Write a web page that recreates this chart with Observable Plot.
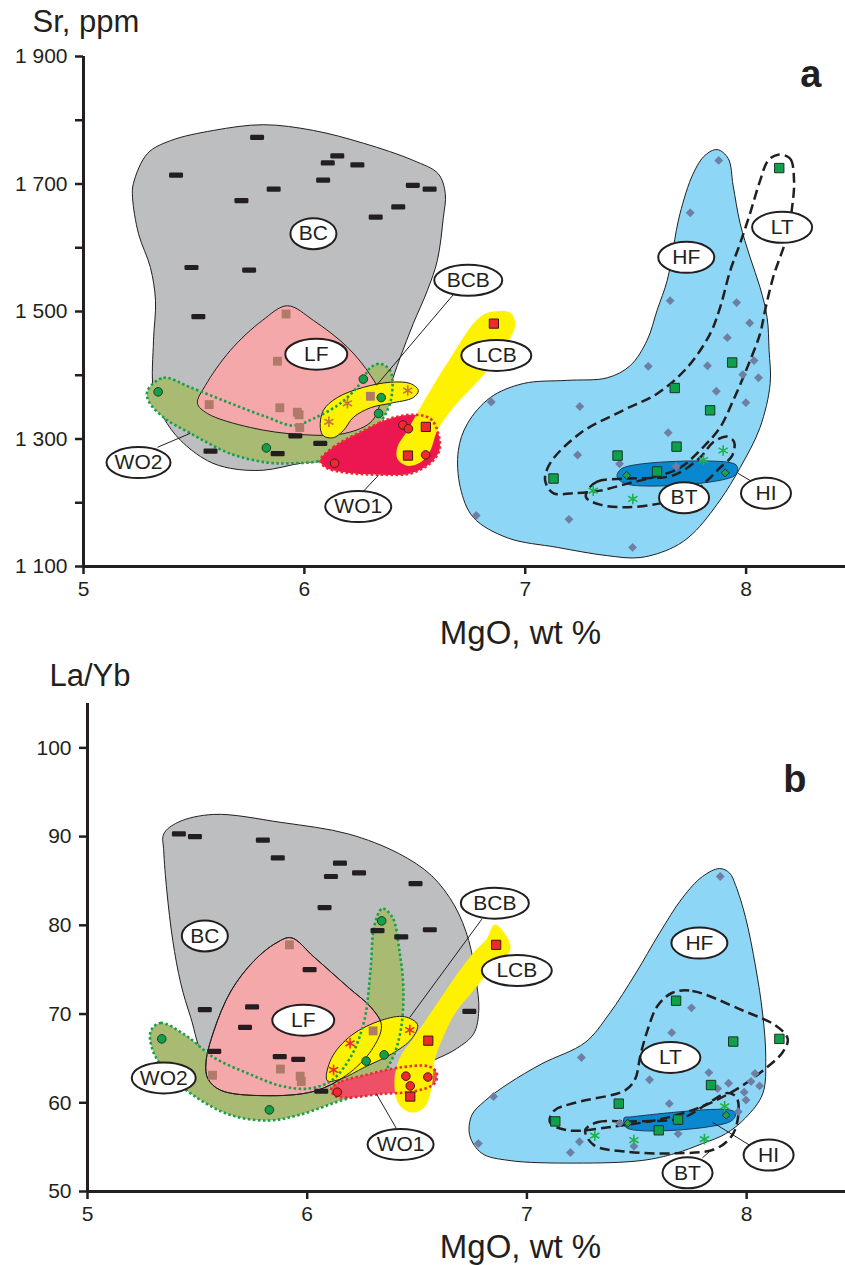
<!DOCTYPE html>
<html><head><meta charset="utf-8">
<script src="https://cdn.jsdelivr.net/npm/d3@7"></script>
<script src="https://cdn.jsdelivr.net/npm/@observablehq/plot@0.6"></script>
<style>body{margin:0;background:#fff;} svg{display:block;} #chart{width:845px;}</style>
</head><body><div id="chart"></div>
<script>
// ---------- axis ticks ----------
const xTicks = [5, 6, 7, 8];
const srTicks = [1100, 1200, 1300, 1400, 1500, 1600, 1700, 1800, 1900];
const srTickLabels = [1100, 1300, 1500, 1700, 1900];
const laybTicks = [50, 60, 70, 80, 90, 100];

// ---------- panel a: Sr (ppm) vs MgO (wt %) ----------
const bcA = [[5.786,1773],[5.419,1714],[6.149,1744],[6.106,1733],[6.240,1730],[6.085,1706],[5.861,1692],[5.715,1674],[6.491,1698],[6.567,1692],[6.425,1664],[6.323,1648],[5.489,1569],[5.750,1565],[5.520,1492],[5.959,1305],[6.072,1293],[5.575,1281],[5.879,1277]];
const lfA = [[5.917,1496],[5.878,1422],[5.569,1354],[5.889,1349],[5.968,1342],[5.976,1338],[5.979,1318],[6.299,1367]];
const wo2A = [[5.338,1374],[6.267,1394],[6.348,1365],[6.336,1340],[5.828,1286]];
const bcbA = [[6.468,1376],[6.195,1356],[6.111,1327]];
const wo1A = [[6.446,1322],[6.471,1316],[6.549,1275],[6.137,1262]];
const lcbA = [[6.858,1481],[6.550,1319],[6.469,1274]];
const hfA = [[7.876,1737],[7.747,1655],[7.656,1517],[7.957,1514],[8.016,1482],[7.915,1459],[7.557,1414],[7.825,1415],[8.036,1423],[7.985,1401],[8.056,1396],[7.865,1375],[7.999,1357],[6.846,1358],[7.247,1351],[7.647,1310],[7.237,1275],[7.427,1261],[7.684,1257],[6.778,1180],[7.198,1174],[7.486,1130]];
const ltA = [[8.150,1725],[7.937,1420],[7.677,1380],[7.837,1345],[7.685,1288],[7.418,1274],[7.597,1249],[7.128,1238]];
const btA = [[7.896,1282],[7.807,1267],[7.308,1219],[7.487,1206]];
const hiA = [[7.459,1243],[7.905,1247]];

// field outlines, panel a (MgO, Sr)
const bcFieldA = [[5.226,1701],[5.290,1748],[5.394,1768],[5.588,1784],[5.814,1793],[6.041,1784],[6.267,1764],[6.493,1737],[6.606,1716],[6.638,1685],[6.629,1647],[6.602,1580],[6.557,1533],[6.493,1481],[6.434,1428],[6.380,1376],[6.299,1313],[6.118,1269],[5.982,1262],[5.814,1251],[5.665,1254],[5.561,1266],[5.439,1298],[5.362,1334],[5.317,1376],[5.317,1455],[5.326,1517],[5.303,1569],[5.249,1622],[5.222,1679]];
const lfFieldA = [[5.923,1509],[6.041,1486],[6.195,1444],[6.299,1400],[6.344,1368],[6.308,1329],[6.186,1309],[5.982,1307],[5.756,1318],[5.561,1340],[5.516,1356],[5.552,1384],[5.665,1439],[5.810,1486]];
const wo2FieldA = [[5.290,1376],[5.362,1396],[5.484,1381],[5.665,1356],[5.833,1334],[5.950,1321],[6.041,1332],[6.163,1356],[6.253,1387],[6.299,1412],[6.344,1418],[6.389,1407],[6.398,1376],[6.376,1345],[6.312,1313],[6.195,1287],[6.072,1266],[5.950,1262],[5.833,1263],[5.665,1277],[5.484,1309],[5.362,1334],[5.294,1360]];
const bcbFieldA = [[6.072,1318],[6.086,1345],[6.149,1365],[6.267,1381],[6.389,1389],[6.480,1387],[6.516,1376],[6.493,1365],[6.389,1356],[6.299,1349],[6.222,1334],[6.176,1313],[6.131,1302],[6.086,1305]];
const wo1FieldA = [[6.072,1266],[6.131,1287],[6.267,1313],[6.389,1332],[6.493,1338],[6.570,1332],[6.606,1309],[6.611,1282],[6.570,1262],[6.480,1246],[6.344,1244],[6.195,1247],[6.104,1254]];
const lcbFieldA = [[6.855,1500],[6.932,1498],[6.955,1481],[6.919,1450],[6.828,1407],[6.674,1349],[6.602,1313],[6.570,1282],[6.525,1263],[6.466,1258],[6.421,1269],[6.421,1287],[6.466,1313],[6.570,1376],[6.674,1434],[6.765,1481],[6.810,1495]];
const hfFieldA = [[7.869,1754],[7.919,1740],[7.941,1698],[7.973,1638],[8.018,1585],[8.063,1538],[8.095,1491],[8.104,1439],[8.109,1387],[8.063,1318],[7.973,1255],[7.882,1204],[7.760,1152],[7.670,1130],[7.520,1114],[7.371,1117],[7.145,1130],[6.919,1145],[6.765,1177],[6.706,1224],[6.697,1282],[6.738,1324],[6.842,1365],[6.991,1387],[7.190,1392],[7.371,1396],[7.475,1415],[7.552,1455],[7.597,1502],[7.643,1549],[7.670,1600],[7.701,1654],[7.760,1716],[7.814,1745]];
const ltFieldA = [[8.145,1746],[8.199,1740],[8.217,1705],[8.208,1663],[8.186,1619],[8.122,1553],[8.086,1502],[8.063,1465],[8.005,1412],[7.941,1360],[7.882,1318],[7.805,1287],[7.701,1255],[7.579,1240],[7.462,1230],[7.339,1219],[7.217,1215],[7.127,1215],[7.090,1235],[7.113,1262],[7.249,1309],[7.443,1345],[7.597,1371],[7.733,1412],[7.837,1465],[7.882,1506],[7.928,1564],[7.973,1607],[8.018,1654],[8.063,1705],[8.100,1737]];
const btFieldA = [[7.281,1219],[7.326,1233],[7.462,1238],[7.670,1243],[7.792,1271],[7.851,1295],[7.914,1304],[7.946,1295],[7.937,1274],[7.882,1255],[7.824,1235],[7.747,1211],[7.611,1199],[7.462,1193],[7.339,1197],[7.276,1208]];
const hiFieldA = [[7.416,1241],[7.439,1254],[7.928,1263],[7.959,1257],[7.950,1243],[7.462,1229]];

const labelsA = [
  {name:"BC",x:6.041,y:1622},{name:"BCB",x:6.742,y:1549},{name:"LF",x:6.054,y:1433},
  {name:"LCB",x:6.869,y:1431},{name:"WO2",x:5.249,y:1263},{name:"WO1",x:6.244,y:1194},
  {name:"HF",x:7.729,y:1585},{name:"LT",x:8.163,y:1632},{name:"BT",x:7.719,y:1208},{name:"HI",x:8.090,y:1215}
];
const leadersA = [
  {x1:6.683,y1:1530,x2:6.326,y2:1384},{x1:5.335,y1:1287,x2:5.484,y2:1309},
  {x1:6.262,y1:1216,x2:6.335,y2:1243},{x1:7.964,y1:1246,x2:8.027,y2:1233}
];

// ---------- panel b: La/Yb vs MgO (wt %) ----------
const bcB = [[5.416,90.3],[5.489,90.0],[5.798,89.6],[5.866,87.6],[6.149,87.0],[6.236,85.9],[6.108,85.5],[6.493,84.7],[6.079,82.0],[6.320,79.4],[6.428,78.7],[6.558,79.5],[6.011,75.0],[5.534,70.5],[5.749,70.8],[5.717,68.5],[5.577,65.8],[5.875,65.2],[5.959,64.9],[6.738,70.3],[6.064,61.3]];
const lfB = [[5.919,77.8],[6.300,68.1],[5.878,63.8],[5.968,63.0],[5.569,63.1],[5.973,62.4]];
const wo2B = [[6.339,80.5],[5.338,67.2],[6.268,64.7],[6.350,65.4],[5.828,59.2]];
const bcbB = [[6.467,68.2],[6.195,66.7],[6.120,63.7]];
const wo1B = [[6.449,63.0],[6.549,62.9],[6.469,61.9],[6.137,61.2]];
const lcbB = [[6.860,77.8],[6.551,67.0],[6.469,60.7]];
const hfB = [[7.880,85.5],[7.749,70.7],[7.659,67.9],[7.248,65.1],[7.558,62.6],[7.828,63.4],[7.918,62.2],[7.868,61.6],[8.020,62.4],[8.038,63.3],[8.059,61.9],[7.989,61.2],[7.997,60.3],[6.848,60.7],[7.648,59.9],[7.422,57.7],[7.688,56.5],[7.239,55.6],[7.487,55.1],[7.198,54.4],[6.779,55.4],[7.962,59.0]];
const ltB = [[7.679,71.5],[7.939,66.9],[8.149,67.2],[7.838,62.0],[7.418,59.9],[7.129,57.9],[7.688,58.1],[7.600,56.9]];
const btB = [[7.309,56.3],[7.487,55.8],[7.808,55.9],[7.900,59.6]];
const hiB = [[7.459,57.7],[7.907,58.6]];

const bcFieldB = [[5.347,90.3],[5.411,91.6],[5.575,92.5],[5.881,91.6],[6.187,90.3],[6.416,88.1],[6.566,85.6],[6.671,82.2],[6.735,78.3],[6.767,74.1],[6.781,70.4],[6.758,67.8],[6.680,66.1],[6.521,64.2],[6.292,61.6],[5.973,61.4],[5.699,62.5],[5.539,64.8],[5.470,69.6],[5.425,73.4],[5.388,78.3],[5.361,83.9],[5.347,88.4]];
const lfFieldB = [[5.927,78.6],[6.032,76.4],[6.187,73.0],[6.292,70.7],[6.338,68.7],[6.292,65.9],[6.178,63.1],[6.032,61.3],[5.804,60.8],[5.607,61.4],[5.548,62.7],[5.539,64.5],[5.575,68.1],[5.653,72.6],[5.758,76.0],[5.858,78.0]];
const wo2FieldB = [[5.288,68.1],[5.333,69.0],[5.447,67.6],[5.575,65.1],[5.731,63.3],[5.881,61.9],[6.005,61.6],[6.110,62.5],[6.201,65.3],[6.260,69.3],[6.288,74.9],[6.306,80.0],[6.342,81.9],[6.388,80.9],[6.420,77.1],[6.438,72.6],[6.425,68.1],[6.384,64.8],[6.292,61.6],[6.123,60.0],[5.959,58.6],[5.822,58.0],[5.653,58.6],[5.502,60.5],[5.365,63.3],[5.297,65.9]];
const bcbFieldB = [[6.091,62.5],[6.110,65.0],[6.201,67.6],[6.338,69.3],[6.443,69.7],[6.502,68.8],[6.475,67.2],[6.384,65.5],[6.260,64.0],[6.155,62.7]];
const wo1FieldB = [[6.110,61.6],[6.155,62.4],[6.260,63.1],[6.429,64.0],[6.553,64.1],[6.589,63.4],[6.580,62.2],[6.489,61.3],[6.338,61.0],[6.187,60.6],[6.123,60.8]];
const lcbFieldB = [[6.854,80.1],[6.918,78.3],[6.922,77.1],[6.854,75.7],[6.781,73.4],[6.671,70.0],[6.612,67.0],[6.580,64.8],[6.566,61.7],[6.534,59.5],[6.475,58.9],[6.416,59.9],[6.397,62.5],[6.420,65.0],[6.475,67.0],[6.553,69.8],[6.671,74.1],[6.763,77.1],[6.817,78.5]];
const hfFieldB = [[7.877,86.4],[7.922,85.9],[7.950,84.5],[7.995,80.9],[8.041,75.3],[8.073,70.0],[8.087,65.1],[8.073,61.0],[7.995,58.3],[7.904,56.5],[7.799,55.4],[7.676,54.3],[7.525,53.5],[7.219,53.2],[6.918,53.5],[6.795,54.3],[6.740,56.3],[6.749,58.6],[6.808,60.2],[6.918,62.2],[7.068,64.4],[7.265,66.8],[7.374,70.0],[7.493,74.5],[7.603,79.1],[7.708,83.1],[7.799,85.5]];
const ltFieldB = [[7.662,72.4],[7.753,72.6],[7.982,70.4],[8.132,68.7],[8.187,67.2],[8.164,65.7],[8.073,63.6],[7.959,61.6],[7.799,59.6],[7.616,58.2],[7.388,57.3],[7.183,56.9],[7.105,57.8],[7.123,59.1],[7.219,60.0],[7.447,61.4],[7.493,62.7],[7.516,65.3],[7.548,68.1],[7.594,70.9]];
const btFieldB = [[7.265,56.9],[7.320,57.8],[7.479,57.9],[7.708,58.3],[7.822,59.9],[7.913,61.1],[7.954,60.6],[7.963,58.9],[7.936,56.4],[7.858,54.8],[7.676,54.3],[7.447,54.5],[7.306,55.2]];
const hiFieldB = [[7.443,58.3],[7.452,57.2],[7.927,57.9],[7.950,58.8],[7.922,59.2],[7.470,58.4]];

const labelsB = [
  {name:"BC",x:5.534,y:78.8},{name:"BCB",x:6.854,y:82.5},{name:"LF",x:5.982,y:69.3},
  {name:"LCB",x:6.954,y:74.9},{name:"WO2",x:5.347,y:62.8},{name:"WO1",x:6.425,y:55.3},
  {name:"HF",x:7.785,y:78.0},{name:"LT",x:7.653,y:65.1},{name:"BT",x:7.731,y:52.1},{name:"HI",x:8.100,y:54.1}
];
const leadersB = [
  {x1:6.795,y1:80.7,x2:6.466,y2:69.6},{x1:6.406,y1:57.1,x2:6.315,y2:61.0},
  {x1:7.845,y1:57.8,x2:8.041,y2:54.8},{x1:7.799,y1:53.8,x2:7.845,y2:54.8}
];

// ---------- styles ----------
const INK = "#231f20";
const FONT = "'Liberation Sans', Arial, Helvetica, sans-serif";
const labelWidth = {BC:46, BCB:68, LF:62, LCB:70, WO2:64, WO1:66, HF:56, LT:60, BT:50, HI:50};

function ellipseSymbol(rx, ry) {
  const k = 0.5523;
  return {draw(ctx) {
    ctx.moveTo(rx, 0);
    ctx.bezierCurveTo(rx, ry * k, rx * k, ry, 0, ry);
    ctx.bezierCurveTo(-rx * k, ry, -rx, ry * k, -rx, 0);
    ctx.bezierCurveTo(-rx, -ry * k, -rx * k, -ry, 0, -ry);
    ctx.bezierCurveTo(rx * k, -ry, rx, -ry * k, rx, 0);
    ctx.closePath();
  }};
}
const dashSymbol = {draw(ctx) {
  const w = 7, h = 2.6, r = 1.3;
  ctx.moveTo(-w + r, -h); ctx.lineTo(w - r, -h); ctx.arcTo(w, -h, w, -h + r, r);
  ctx.lineTo(w, h - r); ctx.arcTo(w, h, w - r, h, r); ctx.lineTo(-w + r, h);
  ctx.arcTo(-w, h, -w, h - r, r); ctx.lineTo(-w, -h + r); ctx.arcTo(-w, -h, -w + r, -h, r); ctx.closePath();
}};

const field = (data, o) => Plot.line(data, {x: d => d[0], y: d => d[1], curve: "catmull-rom-closed",
  fill: o.fill ?? "none", stroke: o.stroke ?? "none", strokeWidth: o.sw ?? 1,
  strokeDasharray: o.dash, strokeLinecap: o.cap ?? "butt", strokeLinejoin: "round"});
const pts = (data, o) => Plot.dot(data, {x: d => d[0], y: d => d[1], symbol: o.symbol, r: o.r,
  fill: o.fill ?? "none", stroke: o.stroke ?? "none", strokeWidth: o.sw ?? 1});

function panel(o) {
  const marks = [...o.fields];
  marks.push(Plot.ruleX([5], {stroke: INK, strokeWidth: 3}));
  marks.push(Plot.ruleY([o.yDomain[0]], {stroke: INK, strokeWidth: 3}));
  marks.push(Plot.axisX({ticks: xTicks, tickSize: 8, tickPadding: 7, label: null, stroke: INK, strokeWidth: 2.5, fontSize: 21, fill: INK, tickFormat: d => String(d)}));
  marks.push(Plot.axisY({ticks: o.yTicks, tickSize: 8, tickPadding: 8, label: null, stroke: INK, strokeWidth: 2.5, fontSize: 21, fill: INK, tickFormat: o.yFormat}));
  marks.push(...o.points);
  marks.push(Plot.link(o.leaders, {x1: "x1", y1: "y1", x2: "x2", y2: "y2", stroke: INK, strokeWidth: 1}));
  for (const l of o.labels) {
    marks.push(Plot.dot([l], {x: "x", y: "y", symbol: ellipseSymbol(labelWidth[l.name] / 2, 15.5), fill: "white", stroke: INK, strokeWidth: 2}));
    marks.push(Plot.text([l], {x: "x", y: "y", text: "name", fontSize: 21, fill: INK}));
  }
  marks.push(Plot.text([o.yTitle], {text: d => d, frameAnchor: "top-left", textAnchor: "start", lineAnchor: "middle", dx: o.yTitleDx, dy: o.yTitleDy, fontSize: 31, fill: INK}));
  marks.push(Plot.text(["MgO, wt %"], {text: d => d, frameAnchor: "bottom", lineAnchor: "middle", dx: o.xTitleDx, dy: o.xTitleDy, fontSize: 33, fill: INK}));
  marks.push(Plot.text([o.letter], {text: d => d, frameAnchor: "top-right", textAnchor: "end", lineAnchor: "middle", dx: o.letterDx, dy: o.letterDy, fontSize: 38, fontWeight: "bold", fill: INK}));
  return Plot.plot({
    width: 845, height: o.height, marginTop: o.marginTop, marginBottom: o.marginBottom,
    marginLeft: o.marginLeft, marginRight: 0,
    x: {domain: [5, 8.45]}, y: {domain: o.yDomain},
    style: {fontFamily: FONT, background: "white", color: INK, overflow: "visible"},
    marks
  });
}

const fmtSr = d => srTickLabels.includes(d) ? String(d).replace(/(\d)(\d{3})$/, "$1 $2") : "";

const plotA = panel({
  height: 650, marginTop: 56, marginBottom: 84, marginLeft: 83, yDomain: [1100, 1900],
  yTicks: srTicks, yFormat: fmtSr, yTitle: "Sr, ppm", yTitleDx: -51, yTitleDy: -34,
  xTitleDx: 56, xTitleDy: 67, letter: "a", letterDx: -24, letterDy: 18,
  fields: [
    field(hfFieldA, {fill: "#8dd6f5", stroke: INK}),
    field(bcFieldA, {fill: "#bcbec0", stroke: INK}),
    field(wo2FieldA, {fill: "#a9bb72"}),
    field(lfFieldA, {fill: "#f5a8a9", stroke: INK}),
    field(bcbFieldA, {fill: "#fff200", stroke: INK}),
    field(wo2FieldA, {stroke: "#16a04a", sw: 2.6, dash: "2.5,2.5"}),
    field(wo1FieldA, {fill: "#ec1651"}),
    field(lcbFieldA, {fill: "#fff200"}),
    field(wo1FieldA, {stroke: "#ee2a2e", sw: 2.6, dash: "2.5,2.5"}),
    field(hiFieldA, {fill: "#0a88cf", stroke: "#1c3a5a"}),
    field(ltFieldA, {stroke: INK, sw: 2.5, dash: "10,5"}),
    field(btFieldA, {stroke: INK, sw: 2.5, dash: "10,5"})
  ],
  points: [
    pts(bcA, {symbol: dashSymbol, fill: INK}),
    pts(lfA, {symbol: "square", r: 5, fill: "#b07a68"}),
    pts(wo2A, {symbol: "circle", r: 4.3, fill: "#12a04c", stroke: "#1d3b20"}),
    pts(bcbA, {symbol: "asterisk", r: 5, stroke: "#c7733c", sw: 1.6}),
    pts(wo1A, {symbol: "circle", r: 4.3, fill: "#ee2a2e", stroke: "#4a1a1a"}),
    pts(lcbA, {symbol: "square", r: 5.2, fill: "#ee2a2e", stroke: "#3a1a1a"}),
    pts(hfA, {symbol: "diamond2", r: 4, fill: "#6e7fa3"}),
    pts(ltA, {symbol: "square", r: 5.3, fill: "#0ea04a", stroke: "#1d3320"}),
    pts(btA, {symbol: "asterisk", r: 5, stroke: "#22b04a", sw: 1.6}),
    pts(hiA, {symbol: "diamond2", r: 3.6, fill: "#1fa050", stroke: "#1d3320"})
  ],
  labels: labelsA, leaders: leadersA
});

const plotB = panel({
  height: 615, marginTop: 53, marginBottom: 74, marginLeft: 87, yDomain: [50, 105],
  yTicks: laybTicks, yFormat: d => String(d), yTitle: "La/Yb", yTitleDx: -38, yTitleDy: -27,
  xTitleDx: 54, xTitleDy: 56, letter: "b", letterDx: -39, letterDy: 76,
  fields: [
    field(hfFieldB, {fill: "#8dd6f5", stroke: INK}),
    field(bcFieldB, {fill: "#bcbec0", stroke: INK}),
    field(wo2FieldB, {fill: "#a9bb72"}),
    field(lfFieldB, {fill: "#f5a8a9", stroke: INK}),
    field(bcbFieldB, {fill: "#fff200", stroke: INK}),
    field(lfFieldB, {stroke: INK}),
    field(wo2FieldB, {stroke: "#16a04a", sw: 2.6, dash: "2.5,2.5"}),
    field(wo1FieldB, {fill: "#ee5068"}),
    field(lcbFieldB, {fill: "#fff200"}),
    field(wo1FieldB, {stroke: "#ee2a2e", sw: 2.6, dash: "2.5,2.5"}),
    field(hiFieldB, {fill: "#0a88cf", stroke: "#1c3a5a"}),
    field(ltFieldB, {stroke: INK, sw: 2.5, dash: "10,5"}),
    field(btFieldB, {stroke: INK, sw: 2.5, dash: "10,5"})
  ],
  points: [
    pts(bcB, {symbol: dashSymbol, fill: INK}),
    pts(lfB, {symbol: "square", r: 5, fill: "#b07a68"}),
    pts(wo2B, {symbol: "circle", r: 4.3, fill: "#12a04c", stroke: "#1d3b20"}),
    pts(bcbB, {symbol: "asterisk", r: 5, stroke: "#ee2a2e", sw: 1.6}),
    pts(wo1B, {symbol: "circle", r: 4.3, fill: "#ee2a2e", stroke: "#4a1a1a"}),
    pts(lcbB, {symbol: "square", r: 5.2, fill: "#ee2a2e", stroke: "#3a1a1a"}),
    pts(hfB, {symbol: "diamond2", r: 4, fill: "#6e7fa3"}),
    pts(ltB, {symbol: "square", r: 5.3, fill: "#0ea04a", stroke: "#1d3320"}),
    pts(btB, {symbol: "asterisk", r: 5, stroke: "#22b04a", sw: 1.6}),
    pts(hiB, {symbol: "diamond2", r: 3.6, fill: "#1fa050", stroke: "#1d3320"})
  ],
  labels: labelsB, leaders: leadersB
});

document.getElementById("chart").append(plotA, plotB);
</script></body></html>
